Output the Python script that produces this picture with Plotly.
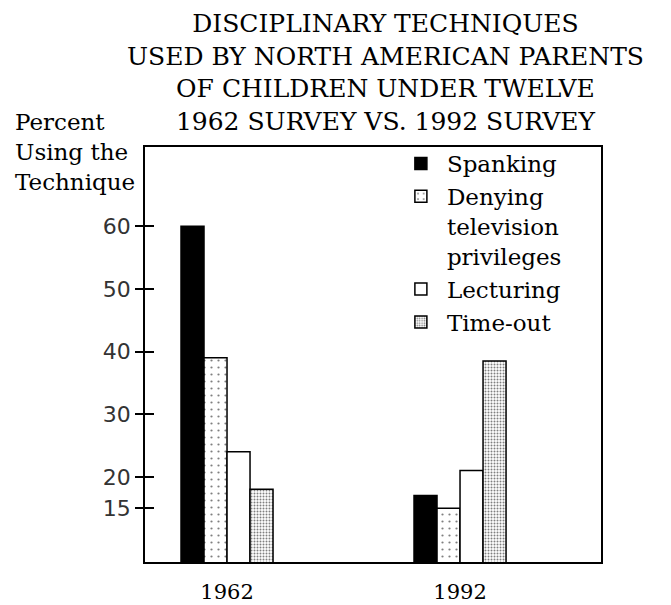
import plotly.graph_objects as go

years = ["1962", "1992"]
techniques = ["Spanking", "Denying<br>television<br>privileges", "Lecturing", "Time-out"]
spanking = [60, 17]
denying_tv = [39, 15]
lecturing = [24, 21]
time_out = [18, 38.5]
y_ticks = [15, 20, 30, 40, 50, 60]

series = [spanking, denying_tv, lecturing, time_out]
SERIF = "DejaVu Serif"
SANS = "DejaVu Sans"

styles = [
    dict(color="black"),
    dict(color="white", pattern=dict(shape=".", fgcolor="black", bgcolor="white", size=7, solidity=0.08)),
    dict(color="white"),
    dict(color="white", pattern=dict(shape=".", fgcolor="black", bgcolor="white", size=3, solidity=0.35)),
]

fig = go.Figure()
for name, vals, st in zip(techniques, series, styles):
    fig.add_trace(go.Bar(
        x=years, y=vals, name=name,
        marker=dict(line=dict(color="black", width=1.5), **st),
    ))

# invisible trace carrying a second overlaid y-axis for the inner half of each tick
fig.add_trace(go.Scatter(x=years, y=[None, None], yaxis="y2", showlegend=False, hoverinfo="skip"))

yrange = [6.4, 72.65]
fig.update_layout(
    width=671, height=605,
    margin=dict(l=145, r=70, t=147, b=43, autoexpand=False),
    paper_bgcolor="white", plot_bgcolor="white",
    barmode="group", bargap=0.605, bargroupgap=0,
    showlegend=True,
    legend=dict(
        x=0.548, y=1.012, xanchor="left", yanchor="top", valign="top",
        font=dict(family=SERIF, size=23, color="black"),
        bgcolor="rgba(0,0,0,0)", tracegroupgap=0, itemwidth=42,
    ),
    xaxis=dict(
        type="category", range=[-0.352, 1.605], automargin=False,
        showline=True, linecolor="black", linewidth=1.5, mirror=True,
        ticks="", showgrid=False, zeroline=False,
        tickfont=dict(family=SERIF, size=21, color="black"),
        ticklabelstandoff=10,
    ),
    yaxis=dict(
        range=yrange, tickvals=y_ticks, automargin=False,
        showline=True, linecolor="black", linewidth=1.5, mirror=True,
        ticks="outside", ticklen=8, tickwidth=1.5, tickcolor="black",
        showgrid=False, zeroline=False,
        tickfont=dict(family=SANS, size=22, color="#333"),
    ),
    yaxis2=dict(
        range=yrange, tickvals=y_ticks, overlaying="y", side="left",
        ticks="inside", ticklen=9, tickwidth=1.5, tickcolor="black",
        showticklabels=False, showgrid=False, zeroline=False, showline=False,
    ),
    annotations=[
        dict(
            text="DISCIPLINARY TECHNIQUES<br>USED BY NORTH AMERICAN PARENTS<br>OF CHILDREN UNDER TWELVE<br>1962 SURVEY VS. 1992 SURVEY",
            xref="paper", yref="paper", x=0.528, y=1.338, xanchor="center", yanchor="top",
            showarrow=False, align="center",
            font=dict(family=SERIF, size=25, color="black"),
        ),
        dict(
            text="Percent<br>Using the<br>Technique",
            xref="paper", yref="paper", x=-0.29, y=1.097, xanchor="left", yanchor="top",
            showarrow=False, align="left",
            font=dict(family=SERIF, size=23, color="black"),
        ),
    ],
)

fig.write_html("out.html", config={"displayModeBar": False},
               post_script="document.body.style.margin='0';")
